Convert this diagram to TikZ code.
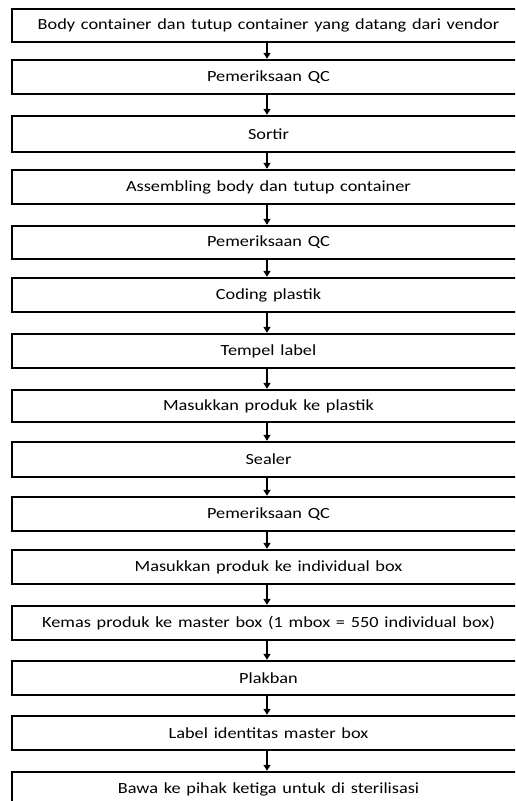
\documentclass[tikz,border=0pt]{standalone}
\usepackage{fontspec}
\setmainfont{Carlito}[FakeStretch=1.18, WordSpace=1.4]
\usetikzlibrary{arrows.meta}
\begin{document}
\begin{tikzpicture}[x=1pt,y=-1pt,
  stepbox/.style={rectangle, minimum width=513pt, inner sep=0pt, outer sep=0pt, anchor=north west, font=\fontsize{15.5}{17}\selectfont, text=black},
  boxline/.style={draw=black, line width=1.3pt},
  flow/.style={draw=black, line width=1.4pt, -{Triangle[width=7pt,length=6pt]}, shorten <=1.2pt, shorten >=1.2pt}]
\useasboundingbox (0,0) rectangle (515,801);
\clip (0,0) rectangle (515,801);
\node[stepbox, minimum height=33pt] (b1) at (12,9) {Body container dan tutup container yang datang dari vendor};
\node[stepbox, minimum height=34pt] (b2) at (12,60) {Pemeriksaan QC};
\node[stepbox, minimum height=36pt] (b3) at (12,116) {Sortir};
\node[stepbox, minimum height=34pt] (b4) at (12,170) {Assembling body dan tutup container};
\node[stepbox, minimum height=33pt] (b5) at (12,226) {Pemeriksaan QC};
\node[stepbox, minimum height=34pt] (b6) at (12,278) {Coding plastik};
\node[stepbox, minimum height=34pt] (b7) at (12,334) {Tempel label};
\node[stepbox, minimum height=32pt] (b8) at (12,390) {Masukkan produk ke plastik};
\node[stepbox, minimum height=35pt] (b9) at (12,442) {Sealer};
\node[stepbox, minimum height=34pt] (b10) at (12,497) {Pemeriksaan QC};
\node[stepbox, minimum height=34pt] (b11) at (12,550) {Masukkan produk ke individual box};
\node[stepbox, minimum height=34pt] (b12) at (12,606) {Kemas produk ke master box (1 mbox = 550 individual box)};
\node[stepbox, minimum height=34pt] (b13) at (12,661) {Plakban};
\node[stepbox, minimum height=34pt] (b14) at (12,716) {Label identitas master box};
\node[stepbox, minimum height=34pt] (b15) at (12,772) {Bawa ke pihak ketiga untuk di sterilisasi};
\foreach \n in {b1,b2,b3,b4,b5,b6,b7,b8,b9,b10,b11,b12,b13,b14,b15}
  \draw[boxline] (\n.north west) rectangle ([xshift=30pt]\n.south east);
\foreach \a/\b in {b1/b2,b2/b3,b3/b4,b4/b5,b5/b6,b6/b7,b7/b8,b8/b9,b9/b10,b10/b11,b11/b12,b12/b13,b13/b14,b14/b15}
  \draw[flow] (\a.south) ++(-1.5,0) coordinate (s) -- (s |- \b.north);
\end{tikzpicture}
\end{document}
